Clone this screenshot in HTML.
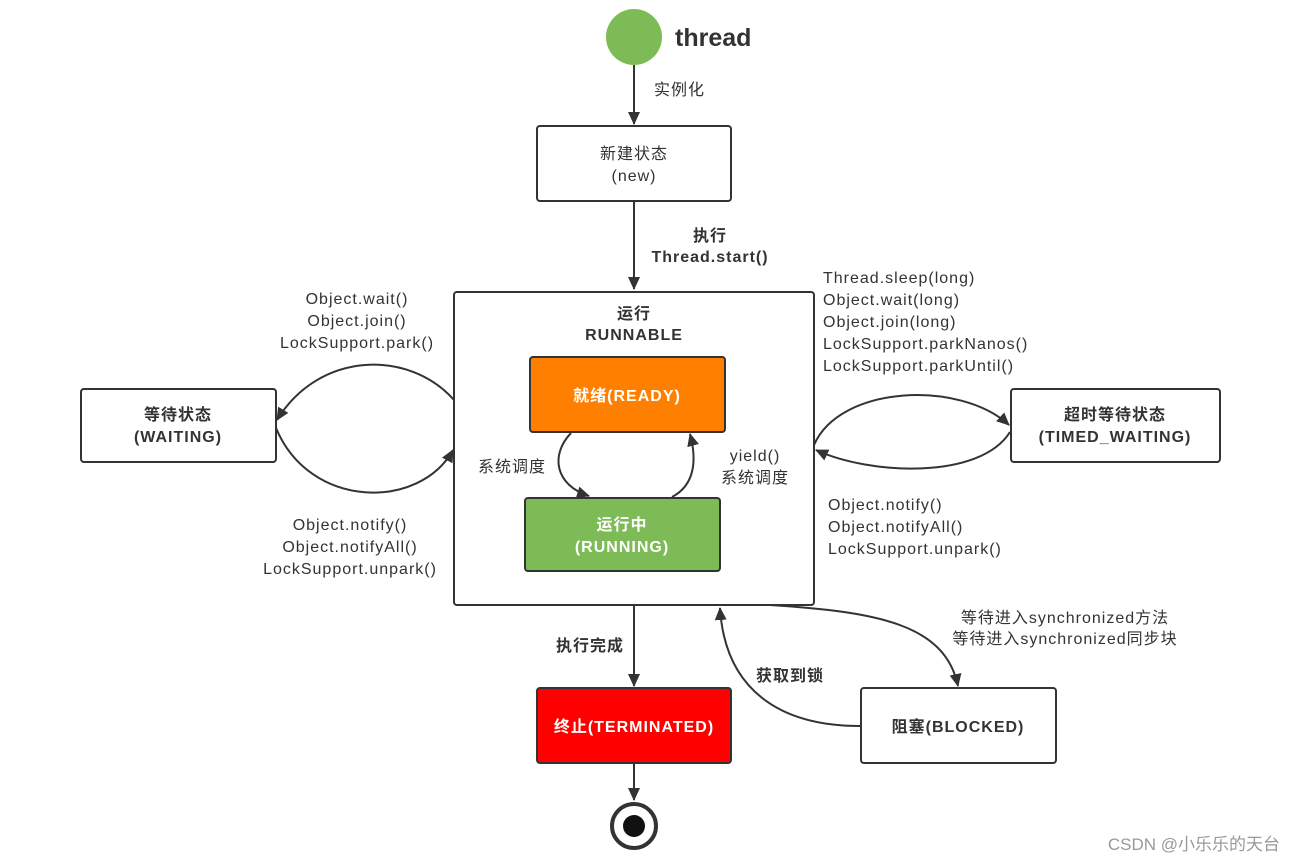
<!DOCTYPE html>
<html><head><meta charset="utf-8"><style>
html,body{margin:0;padding:0;background:#fff;}
svg{display:block;}
text{font-family:"Liberation Sans","Noto Sans CJK SC",sans-serif;fill:#333;font-size:16px;letter-spacing:1px;}
.b{font-weight:bold;}
.w{fill:#fff;font-weight:bold;}
</style></head><body>
<svg width="1294" height="862" viewBox="0 0 1294 862" xmlns="http://www.w3.org/2000/svg">
<defs>
<marker id="a" markerWidth="13" markerHeight="12" refX="12" refY="6" orient="auto" markerUnits="userSpaceOnUse">
<path d="M0,0 L13,6 L0,12 z" fill="#333"/></marker>
</defs>
<g stroke="#333" stroke-width="2" fill="none">
<circle cx="634" cy="37" r="28" fill="#7cbb55" stroke="none"/>
<line x1="634" y1="65" x2="634" y2="124" marker-end="url(#a)"/>
<rect x="537" y="126" width="194" height="75" rx="3" fill="#fff"/>
<line x1="634" y1="201" x2="634" y2="289" marker-end="url(#a)"/>
<rect x="454" y="292" width="360" height="313" rx="3" fill="#fff"/>
<rect x="530" y="357" width="195" height="75" rx="3" fill="#ff8000"/>
<rect x="525" y="498" width="195" height="73" rx="3" fill="#7cbb55"/>
<path d="M571,433 C550,455 555,485 589,496" marker-end="url(#a)"/>
<path d="M672,497 C695,485 697,460 690,434" marker-end="url(#a)"/>
<rect x="81" y="389" width="195" height="73" rx="3" fill="#fff"/>
<path d="M454,400 C410,350 320,350 277,420" marker-end="url(#a)"/>
<path d="M276,428 C310,510 420,510 453,450" marker-end="url(#a)"/>
<rect x="1011" y="389" width="209" height="73" rx="3" fill="#fff"/>
<path d="M814,445 C840,385 960,380 1009,425" marker-end="url(#a)"/>
<path d="M1010,432 C980,480 870,475 816,450" marker-end="url(#a)"/>
<line x1="634" y1="605" x2="634" y2="686" marker-end="url(#a)"/>
<rect x="537" y="688" width="194" height="75" rx="3" fill="#ff0000"/>
<line x1="634" y1="763" x2="634" y2="800" marker-end="url(#a)"/>
<circle cx="634" cy="826" r="22" stroke-width="4" fill="#fff"/>
<circle cx="634" cy="826" r="11" fill="#111" stroke="none"/>
<rect x="861" y="688" width="195" height="75" rx="3" fill="#fff"/>
<path d="M770,605 C880,612 945,625 958,686" marker-end="url(#a)"/>
<path d="M860,726 C780,726 725,690 720,608" marker-end="url(#a)"/>
</g>
<text x="675" y="46" class="b" style="font-size:25px;letter-spacing:0">thread</text>
<text x="654" y="95">实例化</text>
<text x="634" y="159" text-anchor="middle">新建状态</text>
<text x="634" y="181" text-anchor="middle">(new)</text>
<text x="710" y="241" text-anchor="middle" class="b">执行</text>
<text x="710" y="262" text-anchor="middle" class="b">Thread.start()</text>
<text x="634" y="319" text-anchor="middle" class="b">运行</text>
<text x="634" y="340" text-anchor="middle" class="b">RUNNABLE</text>
<text x="627" y="401" text-anchor="middle" class="w">就绪(READY)</text>
<text x="622" y="530" text-anchor="middle" class="w">运行中</text>
<text x="622" y="552" text-anchor="middle" class="w">(RUNNING)</text>
<text x="512" y="472" text-anchor="middle">系统调度</text>
<text x="755" y="461" text-anchor="middle">yield()</text>
<text x="755" y="483" text-anchor="middle">系统调度</text>
<text x="178" y="420" text-anchor="middle" class="b">等待状态</text>
<text x="178" y="442" text-anchor="middle" class="b">(WAITING)</text>
<text x="357" y="304" text-anchor="middle">Object.wait()</text>
<text x="357" y="326" text-anchor="middle">Object.join()</text>
<text x="357" y="348" text-anchor="middle">LockSupport.park()</text>
<text x="350" y="530" text-anchor="middle">Object.notify()</text>
<text x="350" y="552" text-anchor="middle">Object.notifyAll()</text>
<text x="350" y="574" text-anchor="middle">LockSupport.unpark()</text>
<text x="1115" y="420" text-anchor="middle" class="b">超时等待状态</text>
<text x="1115" y="442" text-anchor="middle" class="b">(TIMED_WAITING)</text>
<text x="823" y="283">Thread.sleep(long)</text>
<text x="823" y="305">Object.wait(long)</text>
<text x="823" y="327">Object.join(long)</text>
<text x="823" y="349">LockSupport.parkNanos()</text>
<text x="823" y="371">LockSupport.parkUntil()</text>
<text x="828" y="510">Object.notify()</text>
<text x="828" y="532">Object.notifyAll()</text>
<text x="828" y="554">LockSupport.unpark()</text>
<text x="590" y="651" text-anchor="middle" class="b">执行完成</text>
<text x="634" y="732" text-anchor="middle" class="w">终止(TERMINATED)</text>
<text x="958" y="732" text-anchor="middle" class="b">阻塞(BLOCKED)</text>
<text x="1065" y="623" text-anchor="middle">等待进入synchronized方法</text>
<text x="1065" y="644" text-anchor="middle">等待进入synchronized同步块</text>
<text x="790" y="681" text-anchor="middle" class="b">获取到锁</text>
<text x="1280" y="850" text-anchor="end" style="fill:#999;font-size:17px;letter-spacing:0">CSDN @小乐乐的天台</text>
</svg>
</body></html>
